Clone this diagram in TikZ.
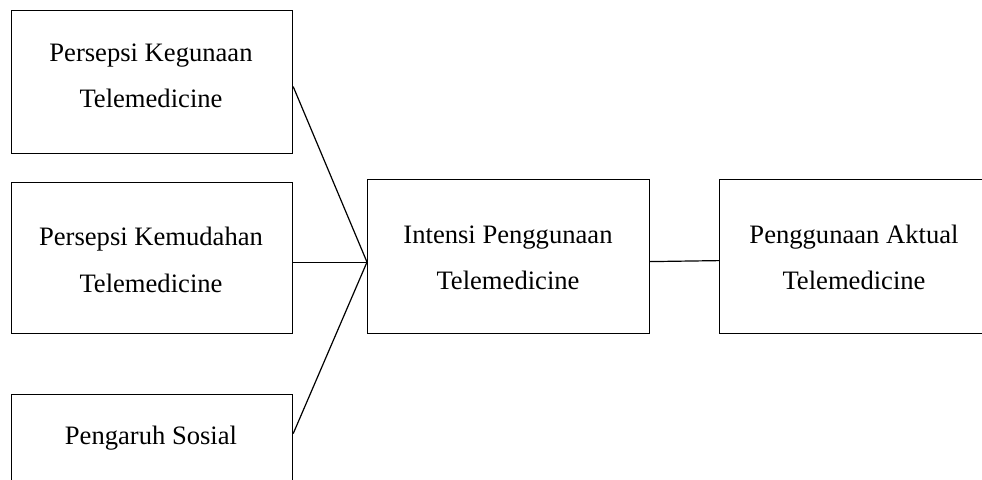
\documentclass[tikz,border=0pt]{standalone}
\usepackage{fontspec}
\setmainfont{Liberation Serif}
\begin{document}
\begin{tikzpicture}[x=1pt,y=-1pt,
  box/.style={draw,line width=1.2pt,rectangle,inner sep=0pt,anchor=north west},
  lbl/.style={anchor=base,inner sep=0pt,font=\fontsize{26.6}{32}\selectfont},
  conn/.style={line width=1.2pt}]
\clip (0,0) rectangle (982,479);
% boxes
\node[box,minimum width=281pt,minimum height=143pt] (b1) at (11,10) {};
\node[box,minimum width=281pt,minimum height=151pt] (b2) at (11,182) {};
\node[box,minimum width=281pt,minimum height=110pt] (b3) at (11,394) {};
\node[box,minimum width=282pt,minimum height=154pt] (b4) at (367,179) {};
\node[box,minimum width=280pt,minimum height=154pt] (b5) at (719,179) {};
% labels
\node[lbl] (t1a) at (151,61) {Persepsi Kegunaan};
\node[lbl] (t1b) at (151,107) {Telemedicine};
\node[lbl] (t2a) at (151,245) {Persepsi Kemudahan};
\node[lbl] (t2b) at (151,292) {Telemedicine};
\node[lbl] (t3a) at (151,444) {Pengaruh Sosial};
\node[lbl] (t4a) at (508,243) {Intensi Penggunaan};
\node[lbl] (t4b) at (508,289) {Telemedicine};
\node[lbl] (t5a) at (854,243) {Penggunaan Aktual};
\node[lbl] (t5b) at (854,289) {Telemedicine};
% connectors
\coordinate (m) at ([yshift=-5.5pt]b4.west);
\draw[conn] ([yshift=-4.5pt]b1.east) -- (m);
\draw[conn] (b2.east |- m) -- (m);
\draw[conn] ([yshift=16pt]b3.east) -- (m);
\draw[conn] ([yshift=-5pt]b4.east) -- ([yshift=-4pt]b5.west);
\end{tikzpicture}
\end{document}
